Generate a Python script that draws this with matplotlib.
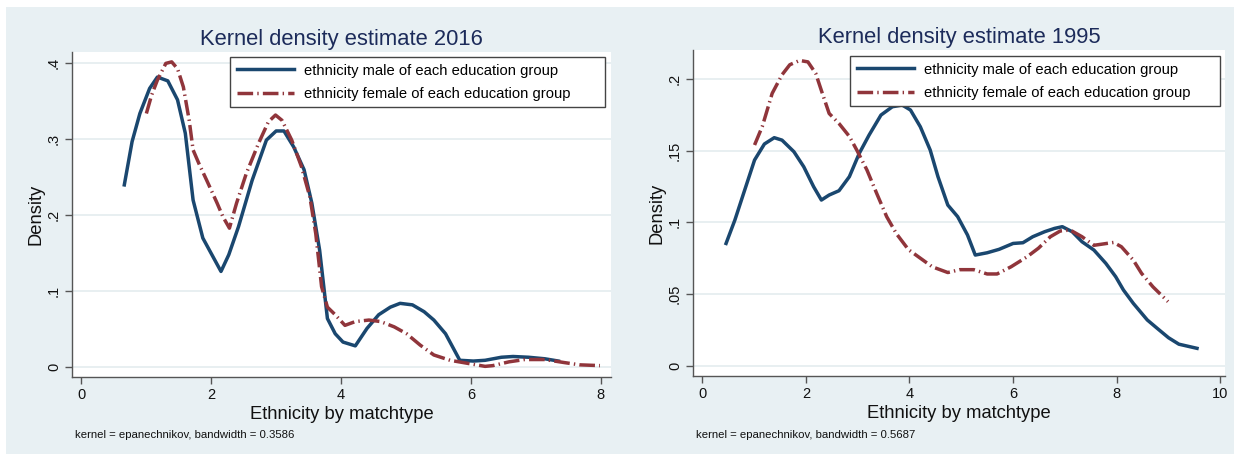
import matplotlib
matplotlib.use("Agg")
import matplotlib.pyplot as plt
from matplotlib.patches import Rectangle
from matplotlib.ticker import FuncFormatter

plt.rcParams['font.family'] = ['Liberation Sans', 'DejaVu Sans']

# ---------------- data ----------------
male_2016_x = [0.66, 0.78, 0.90, 1.05, 1.17, 1.33, 1.48, 1.60, 1.72, 1.87, 2.15, 2.27, 2.42,
               2.63, 2.85, 3.00, 3.12, 3.27, 3.43, 3.55, 3.67, 3.79, 3.91, 4.03, 4.22, 4.40,
               4.58, 4.76, 4.91, 5.10, 5.28, 5.43, 5.61, 5.83, 6.04, 6.22, 6.47, 6.65, 6.89,
               7.14, 7.35]
male_2016_y = [0.240, 0.297, 0.334, 0.367, 0.382, 0.377, 0.352, 0.308, 0.220, 0.170, 0.126,
               0.148, 0.185, 0.246, 0.299, 0.311, 0.311, 0.290, 0.260, 0.216, 0.154, 0.064,
               0.044, 0.033, 0.028, 0.051, 0.069, 0.079, 0.084, 0.082, 0.073, 0.062, 0.044,
               0.009, 0.008, 0.009, 0.013, 0.014, 0.013, 0.011, 0.008]

female_2016_x = [1.00, 1.08, 1.17, 1.30, 1.39, 1.48, 1.57, 1.66, 1.72, 1.81, 1.93, 2.09, 2.18,
                 2.28, 2.39, 2.54, 2.73, 2.88, 2.99, 3.09, 3.24, 3.39, 3.52, 3.61, 3.70, 3.79,
                 3.91, 4.06, 4.22, 4.43, 4.61, 4.82, 5.01, 5.22, 5.43, 5.68, 5.95, 6.22, 6.34,
                 6.59, 6.83, 7.14, 7.44, 7.68, 7.99]
female_2016_y = [0.334, 0.358, 0.378, 0.400, 0.402, 0.393, 0.369, 0.325, 0.286, 0.268, 0.246,
                 0.216, 0.198, 0.183, 0.216, 0.255, 0.295, 0.323, 0.332, 0.325, 0.299, 0.264,
                 0.224, 0.176, 0.106, 0.079, 0.069, 0.055, 0.060, 0.062, 0.060, 0.053, 0.044,
                 0.029, 0.016, 0.009, 0.005, 0.001, 0.002, 0.007, 0.010, 0.010, 0.006, 0.003,
                 0.002]

male_1995_x = [0.46, 0.63, 0.82, 1.01, 1.20, 1.39, 1.54, 1.77, 1.96, 2.15, 2.30, 2.45, 2.64,
               2.84, 3.03, 3.22, 3.45, 3.67, 3.86, 4.02, 4.21, 4.40, 4.55, 4.74, 4.93, 5.12,
               5.27, 5.50, 5.73, 6.00, 6.19, 6.38, 6.61, 6.80, 6.95, 7.14, 7.33, 7.56, 7.79,
               7.98, 8.13, 8.32, 8.59, 8.80, 9.00, 9.20, 9.55]
male_1995_y = [0.0853, 0.1016, 0.1226, 0.1435, 0.1547, 0.1591, 0.1574, 0.1493, 0.1388, 0.1249,
               0.1156, 0.1191, 0.1221, 0.1319, 0.1481, 0.1609, 0.1749, 0.1807, 0.1819, 0.1784,
               0.1667, 0.1505, 0.1319, 0.1121, 0.1040, 0.0912, 0.0772, 0.0788, 0.0812, 0.0853,
               0.0858, 0.0900, 0.0935, 0.0958, 0.0970, 0.0935, 0.0865, 0.0807, 0.0714, 0.0621,
               0.0528, 0.0435, 0.0319, 0.0255, 0.0195, 0.0150, 0.0121]

female_1995_x = [1.01, 1.16, 1.35, 1.54, 1.69, 1.88, 2.04, 2.19, 2.30, 2.45, 2.64, 2.84, 2.99,
                 3.18, 3.37, 3.56, 3.75, 3.98, 4.21, 4.44, 4.74, 4.97, 5.24, 5.50, 5.69, 5.96,
                 6.27, 6.49, 6.72, 6.91, 7.10, 7.33, 7.56, 7.75, 7.94, 8.09, 8.32, 8.48, 8.70,
                 8.99]
female_1995_y = [0.154, 0.167, 0.190, 0.203, 0.210, 0.213, 0.212, 0.204, 0.192, 0.176, 0.169,
                 0.160, 0.150, 0.1365, 0.120, 0.104, 0.092, 0.081, 0.075, 0.069, 0.065, 0.067,
                 0.067, 0.064, 0.064, 0.069, 0.076, 0.082, 0.090, 0.094, 0.0947, 0.090, 0.084,
                 0.085, 0.086, 0.083, 0.0737, 0.0644, 0.055, 0.0447]

titles = ["Kernel density estimate 2016", "Kernel density estimate 1995"]
notes = ["kernel = epanechnikov, bandwidth = 0.3586", "kernel = epanechnikov, bandwidth = 0.5687"]
xlabel = "Ethnicity by matchtype"
ylabel = "Density"
legend_labels = ["ethnicity male of each education group", "ethnicity female of each education group"]
xticks = [[0, 2, 4, 6, 8], [0, 2, 4, 6, 8, 10]]
yticks = [[0, 0.1, 0.2, 0.3, 0.4], [0, 0.05, 0.1, 0.15, 0.2]]

# ---------------- styling ----------------
W, H = 1234, 455
BLUE = "#1a476f"
RED = "#90353b"
PANEL = "#e8f0f3"
GRID = "#e4ecef"
TITLE_C = "#1c2b5a"

fig = plt.figure(figsize=(W / 100, H / 100), dpi=100)
fig.patch.set_facecolor("white")
fig.patches.append(Rectangle((6 / W, 1 - 454 / H), (1234 - 6) / W, (454 - 7) / H,
                             transform=fig.transFigure, facecolor=PANEL, edgecolor="none", zorder=-10))


def ax_rect(x0, x1, y0, y1):
    return [x0 / W, 1 - y1 / H, (x1 - x0) / W, (y1 - y0) / H]


def fmt(v, pos):
    if abs(v) < 1e-12:
        return "0"
    s = ("%g" % v)
    if s.startswith("0."):
        s = s[1:]
    return s


panels = [
    dict(px=(72, 611, 52, 377), xlim=(-0.146, 8.16), ylim=(-0.013, 0.415),
         m=(male_2016_x, male_2016_y), f=(female_2016_x, female_2016_y),
         leg=(230, 605, 57)),
    dict(px=(693, 1225, 50, 376), xlim=(-0.178, 10.09), ylim=(-0.0072, 0.2203),
         m=(male_1995_x, male_1995_y), f=(female_1995_x, female_1995_y),
         leg=(850, 1220, 56)),
]

for i, p in enumerate(panels):
    x0, x1, y0, y1 = p["px"]
    ax = fig.add_axes(ax_rect(x0, x1, y0, y1))
    aw, ah = x1 - x0, y1 - y0
    ax.set_facecolor("white")
    ax.set_xlim(*p["xlim"])
    ax.set_ylim(*p["ylim"])
    for s in ["top", "right"]:
        ax.spines[s].set_visible(False)
    for s in ["left", "bottom"]:
        ax.spines[s].set_color("#555555")
        ax.spines[s].set_linewidth(1.0)
    ax.set_xticks(xticks[i])
    ax.set_yticks(yticks[i])
    ax.xaxis.set_major_formatter(FuncFormatter(fmt))
    ax.yaxis.set_major_formatter(FuncFormatter(fmt))
    ax.tick_params(axis="both", direction="out", length=5, width=1, color="#555555",
                   labelsize=10.5, labelcolor="#111111", pad=3)
    for lab in ax.get_yticklabels():
        lab.set_rotation(90)
        lab.set_va("center")
    ax.grid(axis="y", color=GRID, linewidth=1.2)
    ax.set_axisbelow(True)

    ax.plot(p["m"][0], p["m"][1], color=BLUE, lw=2.5, solid_joinstyle="round",
            label=legend_labels[0])
    ax.plot(p["f"][0], p["f"][1], color=RED, lw=2.5, dashes=(4.5, 1.2, 0.4, 1.2),
            label=legend_labels[1])

    ax.set_title(titles[i], fontsize=15.8, color=TITLE_C, pad=5)
    ax.set_xlabel(xlabel, fontsize=13.2, color="#111111", labelpad=3)
    ax.set_ylabel(ylabel, fontsize=13.2, color="#111111", labelpad=2)
    ax.text(3 / aw, -(435 - y1) / ah, notes[i], transform=ax.transAxes, fontsize=8.2,
            color="#111111", ha="left", va="center")

    lx0, lx1, ly0 = p["leg"]
    bx = (lx0 - x0) / aw
    bw = (lx1 - lx0) / aw
    btop = (y1 - ly0) / ah
    leg = ax.legend(loc="upper left", bbox_to_anchor=(bx, 0.0, bw, btop), mode="expand",
                    borderaxespad=0, fontsize=10.6, handlelength=3.9, handletextpad=0.65,
                    labelspacing=0.62, borderpad=0.45, fancybox=False, framealpha=1,
                    edgecolor="#444444")
    leg.get_frame().set_linewidth(1.0)

fig.savefig("out.png", dpi=100, facecolor=fig.get_facecolor())
